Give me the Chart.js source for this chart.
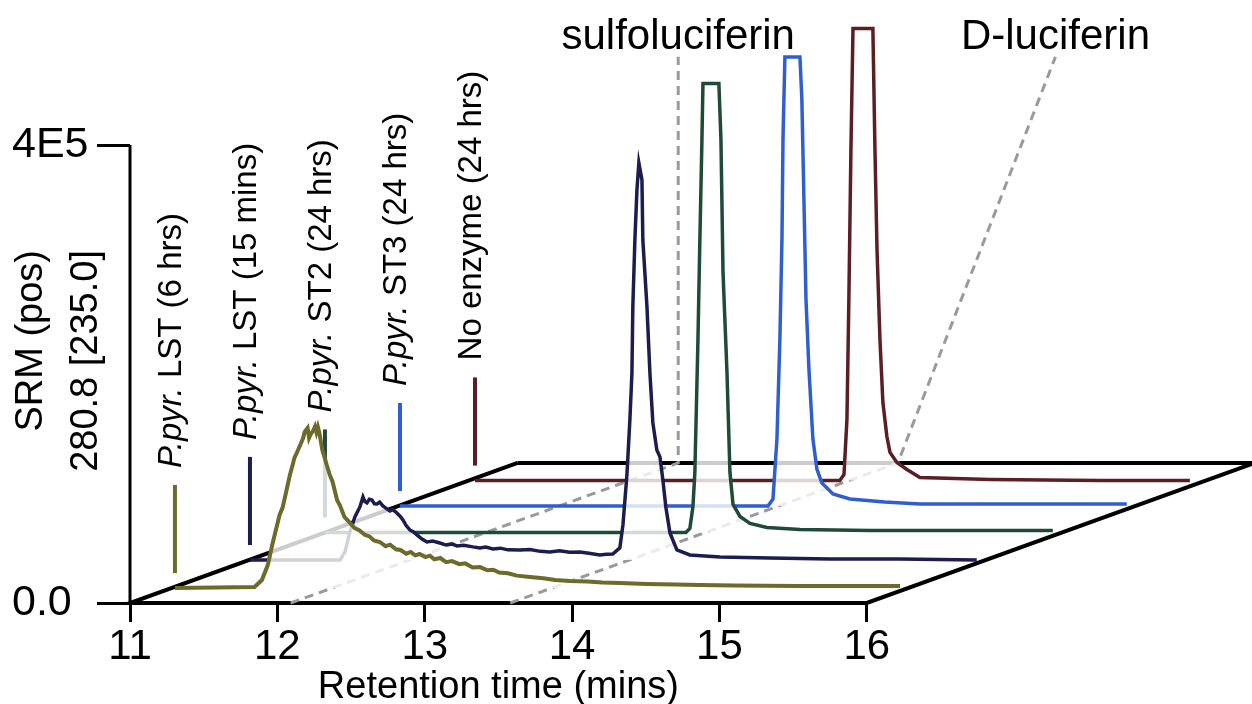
<!DOCTYPE html>
<html>
<head>
<meta charset="utf-8">
<script src="https://cdn.jsdelivr.net/npm/chart.js@4.4.1/dist/chart.umd.min.js"></script>
<style>
  html, body { margin: 0; padding: 0; background: #fff; }
</style>
</head>
<body>
<canvas id="myChart" width="1252" height="704"></canvas>
<script>
// --- data (retention time in mins, SRM counts) ---
const lst6Time = [11.00, 11.54, 11.59, 11.63, 11.66, 11.71, 11.73, 11.75, 11.78, 11.80, 11.81, 11.83, 11.85, 11.87, 11.88, 11.90,
  11.91, 11.92, 11.94, 11.95, 11.96, 11.97, 11.98, 12.00, 12.02, 12.03, 12.05, 12.07, 12.10, 12.12, 12.15, 12.18, 12.22,
  12.25, 12.29, 12.32, 12.35, 12.39, 12.43, 12.46, 12.50, 12.53, 12.57, 12.60, 12.63, 12.66, 12.70, 12.73, 12.76, 12.80,
  12.84, 12.88, 12.93, 12.97, 13.02, 13.07, 13.12, 13.16, 13.20, 13.26, 13.32, 13.41, 13.50, 13.58, 13.68, 13.80, 13.90,
  14.02, 14.20, 14.40, 14.56, 14.80, 15.00, 15.24, 15.50, 15.92];
const lst6Int = [0, 900, 7000, 20000, 37500, 63800, 70000, 81200, 98700, 108000, 113500, 119000, 124900, 131000, 136300, 139700,
  131000, 134000, 138000, 141000, 136000, 140600, 135400, 120500, 112000, 107400, 99000, 92600, 76900, 72000, 62000, 58000, 52400,
  50500, 46300, 45000, 41500, 40200, 36500, 37800, 33800, 33200, 30000, 31500, 28500, 29700, 27000, 28200, 25000, 26200,
  22500, 23500, 20800, 21500, 18000, 18300, 15500, 16000, 13500, 12800, 10800, 9600, 8500, 7000, 6100, 5600, 4800,
  4400, 3500, 3000, 2600, 2200, 2000, 1700, 1700, 1700];

const lst15Time = [11.000, 11.611, 11.645, 11.678, 11.712, 11.746, 11.767, 11.780, 11.794, 11.810, 11.828, 11.845, 11.862, 11.880,
  11.902, 11.925, 11.950, 11.970, 11.997, 12.020, 12.038, 12.060, 12.085, 12.110, 12.133, 12.165, 12.201, 12.240, 12.289, 12.330,
  12.370, 12.404, 12.450, 12.513, 12.560, 12.600, 12.649, 12.700, 12.750, 12.832, 12.900, 12.970, 13.035, 13.100, 13.170, 13.239,
  13.300, 13.374, 13.420, 13.462, 13.510, 13.531, 13.558, 13.578, 13.592, 13.598, 13.612, 13.626, 13.639, 13.660, 13.666, 13.694,
  13.714, 13.734, 13.761, 13.782, 13.802, 13.822, 13.850, 13.897, 13.985, 14.189, 14.528, 14.935, 15.410, 15.932];
const lst15Int = [0, 0, 7000, 24500, 37600, 46300, 55000, 51000, 49800, 53000, 52400, 49000, 48900, 50500,
  47200, 45000, 42800, 44000, 41000, 38000, 34900, 30000, 26200, 24500, 21800, 18500, 15700, 16500, 14800, 13000,
  14000, 12200, 12800, 11400, 10500, 11200, 9600, 10300, 8800, 8700, 9200, 7500, 7000, 8000, 6800, 7000,
  5800, 4400, 5000, 5200, 10500, 30600, 74200, 122300, 163300, 221000, 279500, 323200, 346700, 331900, 279500, 221000,
  163300, 119700, 96100, 90000, 69900, 46300, 23600, 8700, 4400, 2600, 1700, 900, 900, 0];

const st2Time = [11.000, 13.449, 13.476, 13.497, 13.510, 13.531, 13.544, 13.558, 13.565, 13.673, 13.687, 13.701, 13.728, 13.748,
  13.769, 13.816, 13.884, 13.999, 14.223, 14.698, 15.308, 15.939];
const st2Int = [0, 0, 3500, 22700, 52400, 168600, 255900, 343200, 392100, 392100, 343200, 227100, 139700, 52400,
  24500, 14000, 7900, 4400, 2600, 1700, 1700, 1700];

const st3Time = [11.000, 13.497, 13.531, 13.558, 13.578, 13.592, 13.599, 13.612, 13.714, 13.727, 13.741, 13.755, 13.775, 13.802,
  13.829, 13.863, 13.938, 14.053, 14.290, 14.528, 15.206, 15.932];
const st3Int = [0, 0, 6100, 58500, 145900, 233200, 320500, 392200, 392200, 355500, 268100, 180800, 119700, 58500,
  32300, 20100, 10500, 6100, 3500, 1700, 1700, 1700];

const noEnzTime = [11.000, 13.476, 13.504, 13.524, 13.537, 13.551, 13.565, 13.700, 13.714, 13.728, 13.748, 13.768, 13.795, 13.816,
  13.863, 13.931, 14.019, 14.494, 15.240, 15.851];
const noEnzInt = [0, 0, 5200, 53300, 158100, 289100, 394800, 394800, 289100, 201800, 123100, 68100, 38400, 24500,
  15700, 9600, 2600, 900, 0, 0];

const traceNames = ['P.pyr. LST (6 hrs)', 'P.pyr. LST (15 mins)', 'P.pyr. ST2 (24 hrs)', 'P.pyr. ST3 (24 hrs)', 'No enzyme (24 hrs)'];
const traceItalic = ['P.pyr.', 'P.pyr.', 'P.pyr.', 'P.pyr.', ''];
const traceTimes = [lst6Time, lst15Time, st2Time, st3Time, noEnzTime];
const traceInts = [lst6Int, lst15Int, st2Int, st3Int, noEnzInt];

const xTicks = [11, 12, 13, 14, 15, 16];
const yTicks = [0, 400000];
const yTickLabels = ['0.0', '4E5'];

const compounds = ['sulfoluciferin', 'D-luciferin'];
const compoundTimes = [12.09, 13.58];

// --- layout / style ---
const traceColors = ['#6d6a2b', '#1b1d4e', '#1f4b36', '#2f5fce', '#5a1e23'];
const traceShiftX = [0.305, 0.814, 1.323, 1.832, 2.341];      // depth offset along time axis
const traceShiftY = [13100, 37600, 61600, 84700, 107000];     // depth offset along intensity axis
const floorDX = 2.63, floorDY = 122300;
const markerLow = 13000, markerHigh = 90000;
const guideTopY = 477000;
const guideTopShift = [0, 1.07];
const FONT = "'Liberation Sans', Arial, sans-serif";
const AREA_TOP = 40, AREA_BOTTOM = 603, PX_4E5 = 145;
const Y_MAX = 400000 * (AREA_BOTTOM - AREA_TOP) / (AREA_BOTTOM - PX_4E5);

const datasets = [];

traceTimes.forEach((times, k) => {
  datasets.push({
    data: times.map((t, i) => ({ x: t + traceShiftX[k], y: traceInts[k][i] + traceShiftY[k] })),
    borderColor: traceColors[k],
    borderWidth: k === 0 ? 4 : 3.5,
    backgroundColor: 'rgba(255,255,255,0.8)',
    fill: { value: traceShiftY[k] },
    order: 1 + k
  });
  // short colour marker at the start of each trace
  datasets.push({
    data: [{ x: 11 + traceShiftX[k], y: traceShiftY[k] + markerLow }, { x: 11 + traceShiftX[k], y: traceShiftY[k] + markerHigh }],
    borderColor: traceColors[k],
    borderWidth: 4,
    fill: false,
    order: 10
  });
});

// compound guide lines (floor projection + line up to the label)
compoundTimes.forEach((rt, j) => {
  datasets.push({
    data: [{ x: rt, y: 0 }, { x: rt + floorDX, y: floorDY }, { x: rt + floorDX + guideTopShift[j], y: guideTopY }],
    borderColor: '#9a9a9a',
    borderWidth: 3,
    borderDash: [9, 6],
    fill: false,
    order: 11
  });
});

// floor parallelogram
datasets.push({
  data: [{ x: 11 + floorDX, y: floorDY }, { x: 11, y: 0 }, { x: 16, y: 0 }, { x: 16 + floorDX, y: floorDY }, { x: 11 + floorDX, y: floorDY }],
  borderColor: '#000',
  borderWidth: 4,
  borderJoinStyle: 'miter',
  fill: false,
  order: 12
});
// intensity axis line
datasets.push({
  data: [{ x: 11, y: 0 }, { x: 11, y: 400000 }],
  borderColor: '#000',
  borderWidth: 3,
  fill: false,
  order: 12
});

datasets.forEach(d => { d.pointRadius = 0; d.tension = 0; d.clip = false; });

const textPlugin = {
  id: 'texts',
  afterDraw(chart) {
    const ctx = chart.ctx;
    const x = chart.scales.x, y = chart.scales.y;
    ctx.save();
    ctx.fillStyle = '#000';

    // y axis title, two lines, top aligned
    ctx.font = '38px ' + FONT;
    ctx.textBaseline = 'middle';
    ctx.textAlign = 'right';
    [['SRM (pos)', 32], ['280.8 [235.0]', 87]].forEach(([txt, cx]) => {
      ctx.save();
      ctx.translate(cx, y.getPixelForValue(400000) + 105);
      ctx.rotate(-Math.PI / 2);
      ctx.fillText(txt, 0, 0);
      ctx.restore();
    });

    // x axis title
    ctx.textAlign = 'center';
    ctx.font = '38px ' + FONT;
    ctx.fillText('Retention time (mins)', x.getPixelForValue(13.5), y.getPixelForValue(0) + 85);

    // trace labels, rotated, above their markers
    ctx.textAlign = 'left';
    traceNames.forEach((name, k) => {
      const px = x.getPixelForValue(11 + traceShiftX[k]) - 3;
      const py = y.getPixelForValue(traceShiftY[k] + markerHigh) - 17;
      ctx.save();
      ctx.translate(px, py);
      ctx.rotate(-Math.PI / 2);
      let off = 0;
      const it = traceItalic[k];
      if (it) {
        ctx.font = 'italic 33px ' + FONT;
        ctx.fillText(it, 0, 0);
        off = ctx.measureText(it).width;
      }
      ctx.font = '33px ' + FONT;
      ctx.fillText(name.slice(it.length), off, 0);
      ctx.restore();
    });

    // compound names
    ctx.textAlign = 'center';
    ctx.textBaseline = 'alphabetic';
    ctx.font = '42px ' + FONT;
    compounds.forEach((c, j) => {
      ctx.fillText(c, x.getPixelForValue(compoundTimes[j] + floorDX + guideTopShift[j]), y.getPixelForValue(guideTopY) - 8);
    });
    ctx.restore();
  }
};

new Chart(document.getElementById('myChart'), {
  type: 'line',
  data: { datasets: datasets },
  options: {
    responsive: false,
    animation: false,
    devicePixelRatio: 1,
    layout: { padding: { top: AREA_TOP, right: 2, left: 12, bottom: 0 } },
    plugins: {
      legend: { display: false },
      tooltip: { enabled: false },
      filler: { drawTime: 'beforeDatasetDraw' }
    },
    scales: {
      x: {
        type: 'linear',
        min: 11,
        max: 18.6,
        afterBuildTicks: s => { s.ticks = xTicks.map(v => ({ value: v })); },
        afterFit: s => { s.height = 704 - AREA_BOTTOM; },
        grid: { drawOnChartArea: false, drawTicks: true, tickLength: 19, lineWidth: 3, color: '#000' },
        border: { display: false },
        ticks: { color: '#000', font: { family: FONT, size: 42 }, padding: 0, maxRotation: 0, autoSkip: false, callback: v => String(v) }
      },
      y: {
        type: 'linear',
        min: 0,
        max: Y_MAX,
        afterBuildTicks: s => { s.ticks = yTicks.map(v => ({ value: v })); },
        afterFit: s => { s.width = 118; },
        grid: { drawOnChartArea: false, drawTicks: true, tickLength: 33, lineWidth: 3, color: '#000' },
        border: { display: false },
        ticks: { color: '#000', font: { family: FONT, size: 43 }, padding: 4, crossAlign: 'far', callback: (v, i) => yTickLabels[i] }
      }
    }
  },
  plugins: [textPlugin]
});
</script>
</body>
</html>
